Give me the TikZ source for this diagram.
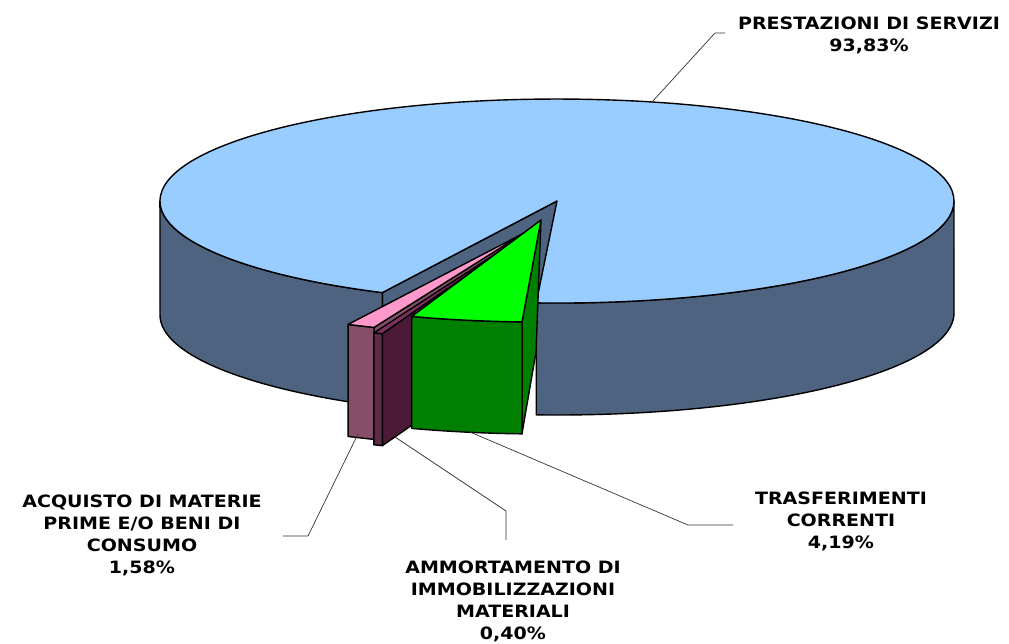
\documentclass[tikz,border=0pt]{standalone}
\usepackage{fontspec}
\newfontfamily\lblfont{DejaVu Sans}[FakeStretch=1.12]
\definecolor{servtop}{HTML}{99CCFF}
\definecolor{servside}{HTML}{4E6380}
\definecolor{trastop}{HTML}{00FF00}
\definecolor{trasside}{HTML}{008000}
\definecolor{acqtop}{HTML}{FF99CC}
\definecolor{acqside}{HTML}{874E68}
\definecolor{ammtop}{HTML}{803060}
\definecolor{ammside}{HTML}{4C1A36}
\tikzset{
  face/.style={draw=black, line width=1.4pt, line join=round, x radius=397pt, y radius=102pt},
  leader/.style={draw=black!80, line width=0.7pt},
  lbl/.style={font=\lblfont\bfseries\fontsize{17}{22}\selectfont, align=center, inner sep=0pt},
}
\begin{document}
\begin{tikzpicture}[x=1pt, y=-1pt]
            \useasboundingbox (0,0) rectangle (1009,644);

            % prestazioni di servizi
            \filldraw[face, fill=servside] (557,201) -- (382.3,292.6) -- (382.3,404.6) -- (557,313) -- cycle;
            \filldraw[face, fill=servside] (382.3,292.6) arc[start angle=-116.1, end angle=-180] -- (160,315) arc[start angle=-180, end angle=-116.1] -- cycle;
            \filldraw[face, fill=servside] (536.2,302.9) arc[start angle=-93, end angle=0] -- (954,313) arc[start angle=0, end angle=-93] -- cycle;
            \filldraw[face, fill=servtop] (557,201) -- (536.2,302.9) arc[start angle=-93, end angle=243.9] -- cycle;

            % acquisto di materie prime
            \filldraw[face, fill=acqside] (524,233) -- (374,327.4) -- (374,439.4) -- (524,345) -- cycle;
            \filldraw[face, fill=acqside] (374,327.4) arc[start angle=-112.2, end angle=-116.3] -- (348.1,436.4) arc[start angle=-116.3, end angle=-112.2] -- cycle;
            \filldraw[face, fill=acqtop] (524,233) -- (374,327.4) arc[start angle=-112.2, end angle=-116.3] -- cycle;

            % ammortamento
            \filldraw[face, fill=ammside] (520,238) -- (382.3,333.7) -- (382.3,445.7) -- (520,350) -- cycle;
            \filldraw[face, fill=ammside!70!acqside] (382.3,333.7) arc[start angle=-110.3, end angle=-111.6] -- (373.9,444.8) arc[start angle=-111.6, end angle=-110.3] -- cycle;
            \filldraw[face, fill=ammtop] (520,238) -- (382.3,333.7) arc[start angle=-110.3, end angle=-111.6] -- cycle;

            % trasferimenti correnti
            \filldraw[face, fill=trasside] (541,220) -- (521.95,321.9) -- (521.95,433.9) -- (536,352) -- cycle;
            \filldraw[face, fill=trasside] (521.95,321.9) arc[start angle=-92.75, end angle=-109] -- (411.75,428.4) arc[start angle=-109, end angle=-92.75] -- cycle;
            \filldraw[face, fill=trastop] (541,220) -- (521.95,321.9) arc[start angle=-92.75, end angle=-109] -- cycle;

            % labels
            \node[lbl] (servizi) at (869,35.5) {PRESTAZIONI DI SERVIZI\\93,83\%};
            \node[lbl] (acquisto) at (142,535) {ACQUISTO DI MATERIE\\PRIME E/O BENI DI\\CONSUMO\\1,58\%};
            \node[lbl] (ammortamento) at (513,601.5) {AMMORTAMENTO DI\\IMMOBILIZZAZIONI\\MATERIALI\\0,40\%};
            \node[lbl] (trasferimenti) at (841,521.5) {TRASFERIMENTI\\CORRENTI\\4,19\%};

            % leaders
            \coordinate (rimS) at (652,102);
            \coordinate (kneeS) at (715,33);
            \coordinate (endS) at (725,33);
            \coordinate (rimA) at (358,434);
            \coordinate (kneeA) at (308,536);
            \coordinate (endA) at (283,536);
            \coordinate (rimM) at (395,437);
            \coordinate (kneeM) at (506,511);
            \coordinate (endM) at (506,540);
            \coordinate (rimT) at (470,432);
            \coordinate (kneeT) at (688,525);
            \coordinate (endT) at (733,525);
            \draw[leader] (rimS) -- (kneeS) -- (endS);
            \draw[leader] (rimA) -- (kneeA) -- (endA);
            \draw[leader] (rimM) -- (kneeM) -- (endM);
            \draw[leader] (rimT) -- (kneeT) -- (endT);
\end{tikzpicture}
\end{document}
